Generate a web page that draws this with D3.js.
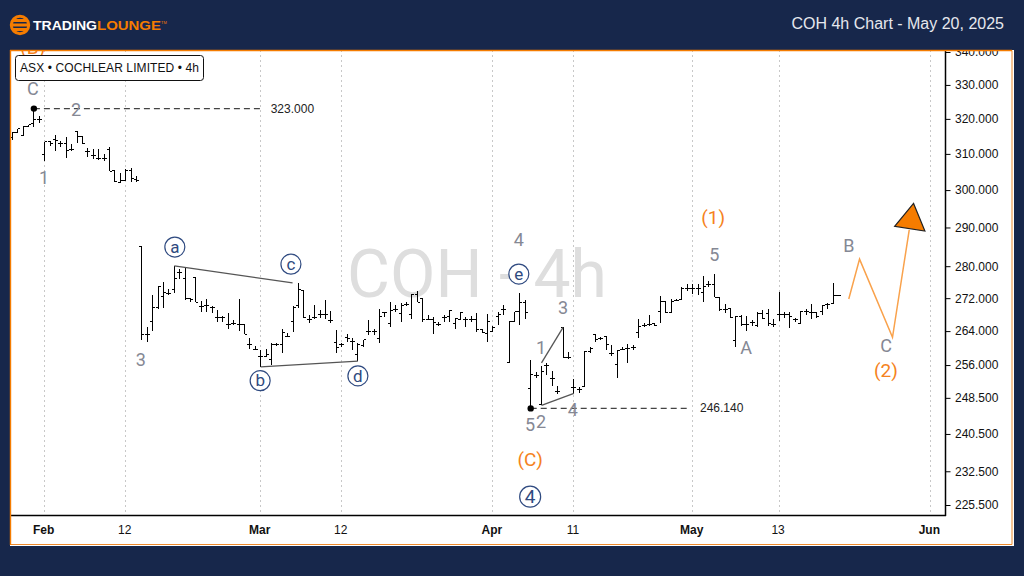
<!DOCTYPE html>
<html>
<head>
<meta charset="utf-8">
<title>COH 4h Chart</title>
<script src="https://cdn.jsdelivr.net/npm/d3@7"></script>
<style>
  html, body { margin: 0; padding: 0; background: #17274b; }
  svg { display: block; }
  text { font-family: "Liberation Sans", Arial, sans-serif; }
</style>
</head>
<body>
<div id="chart"></div>
<script>
var barHigh = [
  316.1,317.2,317.8,318.3,322.9,320.9,313.5,313.5,315.3,313.7,
  314.9,312.9,316.6,314.9,311.8,311.5,311.3,309.9,312,305.4,
  304.7,305.9,306.1,303.8,285.1,264.9,272.8,275,275.9,274.2,
  280.1,279.3,279.7,271.9,277.2,271.3,271.9,270.1,269.1,267.7,
  268.3,266.7,271.8,265.6,262.4,260.5,259.4,259.7,261.1,261.1,
  264.4,263.6,270.1,275.8,274,267.9,270.3,269.1,271.5,268.9,
  264.2,261.1,263.3,262.3,261.1,261.8,266.6,264.6,269.3,268.7,
  271.1,270.3,270.7,271,273,273.8,271.9,267.9,267.5,266.1,
  267.9,269.1,267.2,268.5,267.5,267.6,268.3,264.4,268.1,265.2,
  268.7,270.3,266.4,268.7,273.2,271.5,257.2,254.5,255.8,256.4,
  254.6,251.2,264.9,259.1,252.8,250.9,259.3,260.2,263.3,262.7,
  262.7,260.7,259.5,260.2,260.9,260.7,266.8,265.9,268,265.9,
  272.5,271.1,271.9,271.7,274.7,275.5,275.5,275.5,277.5,276.3,
  277.9,272.1,270.5,269.5,267.6,267.9,267.7,266.7,268.6,269.1,
  269.3,267,273.5,268.7,268.7,267.2,268.9,269.3,270.5,268.5,
  270.3,270.7,275.7
];
var barLow = [
  314,316.1,315.1,317.7,317.7,318.7,307.9,312.3,310.8,312,
  308.8,310.8,313.2,312.9,309,308.7,308.3,307.9,305.2,302.3,
  302.1,302.5,302.3,302.1,261.9,261.5,264.1,269.3,269.7,272.8,
  273.3,276.8,271.5,271,271,268.5,268.5,268.3,266.1,266.1,
  264.4,265.5,264.1,263.3,259.7,259.4,255.6,258,256,260.5,
  258.8,262.7,263.8,269.7,267.2,265.9,266.8,267.2,267,265.9,
  258.9,260.2,261.5,259.4,256.9,260.2,263.1,263.1,261.1,267.5,
  265,268.7,266.1,270.1,266.9,271,266.1,266.6,263.2,265.2,
  266.1,266.1,264.6,266.9,264.9,266.3,263.7,263.5,261.5,263.7,
  265.5,268,256.5,266.3,265.5,267,246.14,253,246.8,253.7,
  251.1,249.4,257.6,257.3,249.4,249.7,251.1,258.8,261.3,261.9,
  259.5,258.2,253,259.4,256.5,259.5,262.4,265,265.3,265.2,
  265.9,268.4,268.5,271.2,271.7,273.8,273,272.8,271.1,274.8,
  272.2,268.9,268.3,267.2,260.3,265.3,264.1,265.3,265,266.8,
  265.2,265,266.4,267.2,264.8,266.1,265.6,267.9,267,267.2,
  267.9,269.3,270.7
];
var barOpen = [
  314.6,316.1,315.1,317.7,318.7,319.7,309.7,313.5,314,312.9,
  312.8,311.3,316.4,314.9,310.6,309.6,308.7,308.7,311.3,305.4,
  302.1,302.7,305.4,303,285.1,263.3,266.4,269.7,272.5,273.2,
  274.2,278.3,276.8,271.9,277.2,269.9,270.3,269.7,267.2,267.2,
  265.6,265.9,265.6,265.6,260.9,259.7,258.1,258.1,257.4,260.7,
  260.7,262.8,266.4,270.1,274,266.8,267.2,268.1,268,266.5,
  261.3,260.7,262.5,261.5,258.4,260.5,263.8,263.8,262.3,268.5,
  265.9,269.3,268.3,270.5,267.9,273,271.9,266.9,266.9,265.6,
  267.2,267.5,265.9,266.9,266.7,266.9,266.7,264.4,263.5,263.8,
  267.5,269.3,256.5,266.3,268.7,271,250.6,253.6,246.9,255.8,
  252.8,250,264.9,257.8,250.9,250.3,251.1,259.1,263.1,262.3,
  262.7,258.8,256.2,259.7,259.9,260.2,263.7,265.3,265.7,265.9,
  268.7,271.1,268.5,271.4,271.7,274.5,274.5,274.5,273.4,275.5,
  275.5,272.1,269.3,269.5,261.8,267.6,265.5,266,265.3,268.3,
  268.3,265.5,267.9,267.9,267.9,266.8,265.9,268.7,268.4,268.4,
  268.7,270.5,270.7
];
var barClose = [
  316.1,317.2,317.7,318.3,319.9,319.7,313.4,312.8,313.7,312.9,
  311,311.3,314.9,313,310.6,309.6,308.7,308.7,305.2,302.3,
  302.5,305.4,303.2,302.7,263.2,263.3,269.7,274.8,273.3,273.2,
  276.8,278.3,271.9,271.7,271,269.9,270.3,269.7,267.2,267.2,
  265.6,265.9,265.6,263.3,260.9,259.7,258.1,258.4,260.9,260.7,
  263.6,262.8,269.7,274.2,267.2,266.8,267.2,268.1,268,266.5,
  260.2,260.7,262.3,261.5,260.7,261.9,263.8,263.8,267.5,268.5,
  268.9,269.3,270.3,270.5,272.8,271,266.7,266.9,266.1,265.6,
  267.2,268.9,267,268.5,266.7,266.9,264.4,263.7,266.3,264.9,
  268.1,269.3,266.3,268.7,271,268.5,253.9,253.6,254.6,255.8,
  252.8,250,257.8,257.8,250.9,250.3,259.1,259.9,261.9,262.3,
  260.7,258.8,259.4,259.7,259.9,260.2,265.2,265.3,265.7,265.3,
  271.1,268.5,271.3,271.4,274.5,274.5,274.5,274.5,275,275.5,
  272.2,269.1,269.3,267.2,267.5,265.5,265.5,266,268.3,267,
  265.9,265.5,267.9,267.9,267.5,266.8,268.7,268.7,268.4,267.5,
  270.3,270.5,272.6
];

var priceTicks = [340, 330, 320, 310, 300, 290, 280, 272, 264, 256, 248.5, 240.5, 232.5, 225.5];
var dateTickBars = [6, 21, 46, 61, 89, 104, 126, 142, 170];
var dateTickLabels = ["Feb", "12", "Mar", "12", "Apr", "11", "May", "13", "Jun"];

// wave labels: bar position, price, text
var greyLabels = [
  [3.8, 328.9, "C"], [11.8, 322.6, "2"], [5.9, 303.5, "1"], [23.8, 257.4, "3"],
  [93.8, 286.9, "4"], [95.9, 242.5, "5"], [97.9, 243.2, "2"], [97.9, 260.2, "1"],
  [102, 269.6, "3"], [103.8, 245.8, "4"], [130, 283.1, "5"], [135.9, 260.2, "A"],
  [154.9, 285.4, "B"], [161.8, 260.5, "C"]
];
var orangeLabels = [
  [3.8, 341.5, "(B)"], [129.8, 292.8, "(1)"], [95.9, 235, "(C)"], [161.8, 254.9, "(2)"]
];
var circledLabels = [
  [30.1, 284.9, "a"], [45.9, 252.4, "b"], [51.6, 280.5, "c"], [64, 253.5, "d"], [93.8, 278, "e"]
];
var circledBig = [[95.9, 227.2, "4"]];

var trendLines = [
  [[30, 280.1], [51.9, 275.8]],
  [[46, 255.6], [64, 256.9]],
  [[98, 256.5], [102, 264.9]],
  [[98, 246.8], [104, 249.5]]
];
var pivotLevels = [
  { from: 4, to: 46, price: 323 },
  { from: 96, to: 125.5, price: 246.14 }
];
var projection = [[154.9, 271.8], [156.9, 281.8], [163, 262.5], [166.1, 289.4]];
var arrowHead = [[166.9, 296.4], [163.4, 290.3], [169, 289.05]];

var width = 1024, height = 576;
var navy = "#17274b", orange = "#f57c00", grey = "#858894", circleBlue = "#2f4a80";

var svg = d3.select("#chart").append("svg").attr("width", width).attr("height", height);

var x = d3.scaleLinear().domain([0, 170]).range([12.3, 930.3]);
var y = d3.scaleLog().domain([225.5, 340]).range([505, 52]);

svg.append("rect").attr("width", width).attr("height", height).attr("fill", navy);
svg.append("rect").attr("x", 10).attr("y", 50).attr("width", 1004).attr("height", 496).attr("fill", "white");

svg.append("defs").append("clipPath").attr("id", "plot")
  .append("rect").attr("x", 11).attr("y", 51).attr("width", 934.5).attr("height", 464.5);

var plot = svg.append("g").attr("clip-path", "url(#plot)");

function snap(v) { return Math.floor(v) + 0.5; }

// grid
plot.selectAll(".grid").data(dateTickBars).enter().append("line")
  .attr("x1", function(d) { return snap(x(d)); })
  .attr("x2", function(d) { return snap(x(d)); })
  .attr("y1", 50).attr("y2", 516)
  .attr("stroke", "#c8c8c8").attr("stroke-dasharray", "2,3");

// watermark
plot.append("text").attr("x", 477).attr("y", 297).attr("text-anchor", "middle")
  .attr("fill", "#dedede").style("font-size", "66px").style("font-family", "Roboto")
  .text("COH - 4h");

// ohlc bars
var bars = plot.selectAll(".bar").data(barHigh).enter().append("g").attr("stroke", "#000").attr("shape-rendering", "crispEdges");
bars.append("line")
  .attr("x1", function(d, i) { return snap(x(i)); })
  .attr("x2", function(d, i) { return snap(x(i)); })
  .attr("y1", function(d) { return y(d); })
  .attr("y2", function(d, i) { return y(barLow[i]); });
bars.append("line")
  .attr("x1", function(d, i) { return snap(x(i)) - 2.5; })
  .attr("x2", function(d, i) { return snap(x(i)); })
  .attr("y1", function(d, i) { return snap(y(barOpen[i])); })
  .attr("y2", function(d, i) { return snap(y(barOpen[i])); });
bars.append("line")
  .attr("x1", function(d, i) { return snap(x(i)); })
  .attr("x2", function(d, i) { return snap(x(i)) + (i == barClose.length - 1 ? 7.5 : 2.5); })
  .attr("y1", function(d, i) { return snap(y(barClose[i])); })
  .attr("y2", function(d, i) { return snap(y(barClose[i])); });

// trend lines
var line = d3.line().x(function(d) { return x(d[0]); }).y(function(d) { return y(d[1]); });
plot.selectAll(".trend").data(trendLines).enter().append("path")
  .attr("d", line).attr("fill", "none").attr("stroke", "#555").attr("stroke-width", 1.3);

// pivot levels
pivotLevels.forEach(function(p) {
  plot.append("line")
    .attr("x1", x(p.from)).attr("x2", x(p.to))
    .attr("y1", y(p.price)).attr("y2", y(p.price))
    .attr("stroke", "#444").attr("stroke-width", 1.2).attr("stroke-dasharray", "6,4");
  plot.append("circle").attr("cx", x(p.from)).attr("cy", y(p.price)).attr("r", 3.2).attr("fill", "#000");
  plot.append("text").attr("x", x(p.to) + 10).attr("y", y(p.price) + 4)
    .attr("fill", "#222").style("font-size", "12px").text(d3.format(".3f")(p.price));
});

// projected path
plot.append("path").datum(projection).attr("d", line)
  .attr("fill", "none").attr("stroke", "#f9a24c").attr("stroke-width", 1.5);
plot.append("path").datum(arrowHead).attr("d", function(d) { return line(d) + "Z"; })
  .attr("fill", orange).attr("stroke", "#222").attr("stroke-width", 1.2);

// wave labels
plot.selectAll(".grey").data(greyLabels).enter().append("text")
  .attr("x", function(d) { return x(d[0]); })
  .attr("y", function(d) { return y(d[1]); })
  .attr("dy", "0.36em").attr("text-anchor", "middle").attr("fill", grey)
  .style("font-family", "Roboto").style("font-size", "18px")
  .text(function(d) { return d[2]; });

plot.selectAll(".orange").data(orangeLabels).enter().append("text")
  .attr("x", function(d) { return x(d[0]); })
  .attr("y", function(d) { return y(d[1]); })
  .attr("dy", "0.36em").attr("text-anchor", "middle").attr("fill", "#f58220")
  .style("font-family", "Roboto").style("font-size", "19px")
  .text(function(d) { return d[2]; });

function circled(data, r, size) {
  var g = plot.selectAll(null).data(data).enter().append("g")
    .attr("transform", function(d) { return "translate(" + x(d[0]) + "," + y(d[1]) + ")"; });
  g.append("circle").attr("r", r).attr("fill", "white").attr("stroke", circleBlue).attr("stroke-width", 1.2);
  g.append("text").attr("dy", "0.33em").attr("text-anchor", "middle").attr("fill", circleBlue)
    .style("font-family", "Roboto").style("font-size", size + "px")
    .text(function(d) { return d[2]; });
}
circled(circledLabels, 10, 17);
circled(circledBig, 10.5, 19);

// axes
var yAxis = d3.axisRight(y).tickValues(priceTicks).tickFormat(d3.format(".3f")).tickSize(5).tickSizeOuter(0);
var gy = svg.append("g").attr("transform", "translate(945.5,0)").call(yAxis);
gy.select(".domain").attr("d", "M0,50V516").attr("stroke", "#000").attr("stroke-width", 1.5);
gy.selectAll("text").attr("x", 9.5).style("font-size", "12px").attr("fill", "#111")
  .style("font-family", "Liberation Sans");

var xAxis = d3.axisBottom(x).tickValues(dateTickBars)
  .tickFormat(function(d, i) { return dateTickLabels[i]; }).tickSize(0);
var gx = svg.append("g").attr("transform", "translate(0,515.5)").call(xAxis);
gx.select(".domain").attr("d", "M11,0H946").attr("stroke", "#000").attr("stroke-width", 1.5);
gx.selectAll("text").attr("x", -1.5).attr("y", 10).style("font-size", "12px").attr("fill", "#111")
  .style("font-family", "Liberation Sans")
  .style("font-weight", function(d, i) { return isNaN(+dateTickLabels[i]) ? "bold" : "normal"; });

// header sits over the top of the plot
svg.append("rect").attr("width", width).attr("height", 50).attr("fill", navy);

// panel border
svg.append("path").attr("d", "M10.5,50.5H1012V544.5H10.5Z").attr("fill", "none").attr("stroke", "#ee8a2c");
svg.append("line").attr("x1", 10).attr("x2", 1012).attr("y1", 50.5).attr("y2", 50.5).attr("stroke", orange).attr("stroke-width", 1.4);
svg.append("line").attr("x1", 10.5).attr("x2", 10.5).attr("y1", 50).attr("y2", 545).attr("stroke", orange).attr("stroke-width", 1.4);

// legend
svg.append("rect").attr("x", 15.5).attr("y", 55.5).attr("width", 188).attr("height", 25).attr("rx", 3)
  .attr("fill", "white").attr("stroke", "#111");
svg.append("text").attr("x", 20).attr("y", 72).attr("fill", "#111").style("font-size", "12px")
  .attr("textLength", 179).attr("lengthAdjust", "spacing")
  .text("ASX \u2022 COCHLEAR LIMITED \u2022 4h");

// logo
var logo = svg.append("g").attr("transform", "translate(20,25)");
logo.append("circle").attr("r", 8.7).attr("fill", navy).attr("stroke", orange).attr("stroke-width", 3);
logo.append("rect").attr("x", -8).attr("y", -6).attr("width", 16).attr("height", 3).attr("fill", orange);
logo.append("rect").attr("x", -9).attr("y", -1.5).attr("width", 18).attr("height", 3).attr("fill", orange);
logo.append("rect").attr("x", -8).attr("y", 3).attr("width", 16).attr("height", 3).attr("fill", orange);
svg.append("text").attr("x", 33).attr("y", 30).attr("fill", "white")
  .attr("textLength", 64).attr("lengthAdjust", "spacingAndGlyphs")
  .style("font-size", "13px").style("font-weight", "bold").text("TRADING");
svg.append("text").attr("x", 97).attr("y", 30).attr("fill", orange)
  .attr("textLength", 64).attr("lengthAdjust", "spacingAndGlyphs")
  .style("font-size", "13px").style("font-weight", "bold").text("LOUNGE");
svg.append("text").attr("x", 161).attr("y", 24).attr("fill", orange).style("font-size", "4px").text("TM");

// title
svg.append("text").attr("x", 1004).attr("y", 29).attr("text-anchor", "end").attr("fill", "#e6e8ee")
  .style("font-size", "16px").text("COH 4h Chart - May 20, 2025");
</script>
</body>
</html>
